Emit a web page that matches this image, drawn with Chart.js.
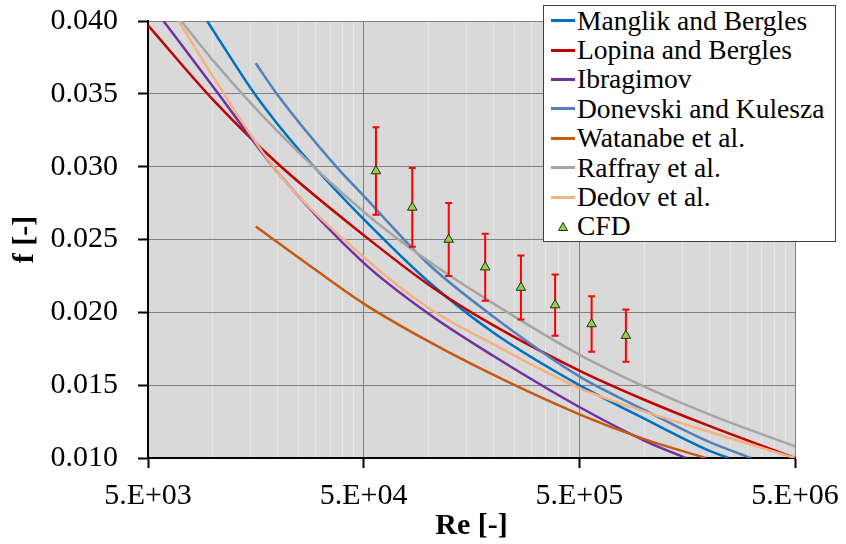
<!DOCTYPE html>
<html>
<head>
<meta charset="utf-8">
<script src="https://cdn.jsdelivr.net/npm/chart.js@4.4.1/dist/chart.umd.min.js"></script>
<style>
  html, body { margin: 0; padding: 0; background: #ffffff; }
  #wrap { position: relative; width: 846px; height: 544px; }
  #legend {
    position: absolute; left: 543px; top: 5px; width: 291px; height: 235px;
    background: #ffffff; border: 1px solid #404040;
    font-family: 'Liberation Serif', Tinos, 'Times New Roman', 'Noto Serif', 'DejaVu Serif', serif;
    font-size: 27.5px; color: #000;
  }
  #legend .row { height: 29.4px; display: flex; align-items: center; white-space: nowrap; }
  #legend .swatch { width: 24px; height: 3px; margin-left: 7px; margin-right: 2px; flex: none; }
  #legend svg { margin-left: 14px; margin-right: 9px; flex: none; }
</style>
</head>
<body>
<div id="wrap">
  <canvas id="c" width="846" height="544"></canvas>
  <div id="legend"></div>
</div>
<script>
// Friction factor correlations vs Reynolds number
const mbRe = [9400, 15600, 20000, 29000, 50000, 100000, 200000, 500000, 1000000, 2000000, 2460000];
const mbF  = [0.0400, 0.0350, 0.0329, 0.0301, 0.0264, 0.0221, 0.0186, 0.0150, 0.0127, 0.0105, 0.0100];

const lbRe = [5000, 10000, 20000, 50000, 100000, 200000, 500000, 1000000, 2000000, 5000000];
const lbF  = [0.0397, 0.0346, 0.0302, 0.0253, 0.0219, 0.0191, 0.0160, 0.0140, 0.0122, 0.0100];

const ibRe = [5900, 10000, 20000, 50000, 100000, 200000, 500000, 1000000, 1560000];
const ibF  = [0.0400, 0.0355, 0.0296, 0.0234, 0.0199, 0.0170, 0.0135, 0.0112, 0.0100];

const dkRe = [15800, 20000, 37300, 50000, 100000, 200000, 500000, 1000000, 2000000, 3130000];
const dkF  = [0.0371, 0.0349, 0.0300, 0.0280, 0.0233, 0.0197, 0.0156, 0.0133, 0.0111, 0.0100];

const wnRe = [15800, 30000, 50000, 100000, 200000, 500000, 1000000, 1930000];
const wnF  = [0.0259, 0.0229, 0.0206, 0.0180, 0.0157, 0.0130, 0.0113, 0.0100];

const rfRe = [7130, 10000, 20000, 50000, 100000, 200000, 500000, 1000000, 2000000, 5000000];
const rfF  = [0.0400, 0.0373, 0.0324, 0.0269, 0.0235, 0.0206, 0.0171, 0.0149, 0.0130, 0.0108];

const ddRe = [6940, 10000, 20000, 50000, 100000, 200000, 500000, 1000000, 2000000, 5000000];
const ddF  = [0.0400, 0.0362, 0.0296, 0.0238, 0.0203, 0.0178, 0.0148, 0.0132, 0.0118, 0.0100];

// CFD results with their uncertainty
const cfdRe  = [57000, 84000, 124000, 183000, 268000, 386000, 570000, 822000];
const cfdF   = [0.0297, 0.0272, 0.0250, 0.0231, 0.0217, 0.0205, 0.0192, 0.0184];
const cfdErr = [0.0030, 0.0027, 0.0025, 0.0023, 0.0022, 0.0021, 0.0019, 0.0018];

// Axis ticks
const reTicks = [5000, 50000, 500000, 5000000];
const reTickLabels = ['5.E+03', '5.E+04', '5.E+05', '5.E+06'];
const fTicks = [0.010, 0.015, 0.020, 0.025, 0.030, 0.035, 0.040];
const fTickLabels = ['0.010', '0.015', '0.020', '0.025', '0.030', '0.035', '0.040'];

const SERIF = "'Liberation Serif', Tinos, 'Times New Roman', 'Noto Serif', 'DejaVu Serif', serif";

const curves = [
  { label: 'Manglik and Bergles', re: mbRe, f: mbF, color: '#0070C0' },
  { label: 'Lopina and Bergles', re: lbRe, f: lbF, color: '#C00000' },
  { label: 'Ibragimov', re: ibRe, f: ibF, color: '#7030A0' },
  { label: 'Donevski and Kulesza', re: dkRe, f: dkF, color: '#4F81BD' },
  { label: 'Watanabe et al.', re: wnRe, f: wnF, color: '#C55A11' },
  { label: 'Raffray et al.', re: rfRe, f: rfF, color: '#A5A5A5' },
  { label: 'Dedov et al.', re: ddRe, f: ddF, color: '#F4B183' }
];

const datasets = curves.map((c, i) => ({
  type: 'line',
  label: c.label,
  data: c.re.map((r, k) => ({ x: r, y: c.f[k] })),
  borderColor: c.color,
  backgroundColor: c.color,
  borderWidth: 2.5,
  pointRadius: 0,
  pointHoverRadius: 0,
  cubicInterpolationMode: 'monotone',
  fill: false,
  order: 20 - i
}));

datasets.push({
  type: 'scatter',
  label: 'CFD',
  data: cfdRe.map((r, k) => ({ x: r, y: cfdF[k] })),
  errors: cfdErr,
  pointStyle: 'triangle',
  pointRadius: 5.5,
  backgroundColor: '#92D050',
  borderColor: '#1f2f10',
  borderWidth: 1,
  showLine: false,
  order: 0
});

// Gridline values for the log axis: every multiple of the decade start
const reGrid = [];
for (let d = 0; d < reTicks.length - 1; d++) {
  for (let k = 1; k <= 9; k++) reGrid.push(reTicks[d] * k);
}
reGrid.push(reTicks[reTicks.length - 1]);
const isMajorRe = v => reTicks.indexOf(v) >= 0;

const plotBg = {
  id: 'plotBg',
  beforeDraw(chart) {
    const { ctx, chartArea: a } = chart;
    ctx.save();
    ctx.fillStyle = '#d9d9d9';
    ctx.fillRect(a.left, a.top, a.right - a.left, a.bottom - a.top);
    ctx.restore();
  }
};

const errorBars = {
  id: 'errorBars',
  beforeDatasetDraw(chart, args) {
    const ds = chart.data.datasets[args.index];
    if (!ds.errors) return;
    const { ctx } = chart;
    const xs = chart.scales.x, ys = chart.scales.y;
    ctx.save();
    ctx.strokeStyle = '#FF0000';
    ctx.lineWidth = 2;
    ds.data.forEach((p, k) => {
      const x = xs.getPixelForValue(p.x);
      const yTop = ys.getPixelForValue(p.y + ds.errors[k]);
      const yBot = ys.getPixelForValue(p.y - ds.errors[k]);
      ctx.beginPath();
      ctx.moveTo(x, yTop); ctx.lineTo(x, yBot);
      ctx.moveTo(x - 3.5, yTop); ctx.lineTo(x + 3.5, yTop);
      ctx.moveTo(x - 3.5, yBot); ctx.lineTo(x + 3.5, yBot);
      ctx.stroke();
    });
    ctx.restore();
  }
};

const chart = new Chart(document.getElementById('c'), {
  data: { datasets },
  plugins: [plotBg, errorBars],
  options: {
    responsive: false,
    devicePixelRatio: 1,
    animation: false,
    layout: { padding: { top: 21, right: 51, left: 0, bottom: 0 } },
    plugins: { legend: { display: false }, tooltip: { enabled: false } },
    scales: {
      x: {
        type: 'logarithmic',
        min: reTicks[0],
        max: reTicks[reTicks.length - 1],
        afterBuildTicks(scale) { scale.ticks = reGrid.map(v => ({ value: v })); },
        afterFit(scale) { scale.height = 86; scale.paddingLeft = 0; scale.paddingRight = 0; },
        ticks: {
          autoSkip: false, maxRotation: 0, minRotation: 0, padding: 10, color: '#000',
          font: { family: SERIF, size: 30 },
          callback(v) { const i = reTicks.indexOf(v); return i >= 0 ? reTickLabels[i] : ''; }
        },
        grid: {
          color: ctx => (ctx.tick && isMajorRe(ctx.tick.value)) ? '#808080' : '#e6e6e6',
          lineWidth: 1,
          tickLength: 10,
          tickWidth: 2,
          tickColor: ctx => (ctx.tick && isMajorRe(ctx.tick.value)) ? '#000' : 'rgba(0,0,0,0)'
        },
        border: { color: '#000', width: 2 },
        title: {
          display: true, text: 'Re [-]', color: '#000', padding: 0,
          font: { family: SERIF, size: 30, weight: 'bold' }
        }
      },
      y: {
        type: 'linear',
        min: fTicks[0],
        max: fTicks[fTicks.length - 1],
        afterBuildTicks(scale) { scale.ticks = fTicks.map(v => ({ value: v })); },
        afterFit(scale) { scale.width = 148; scale.paddingTop = 0; scale.paddingBottom = 0; },
        ticks: {
          padding: 20, color: '#000',
          font: { family: SERIF, size: 30 },
          callback(v, i) { return fTickLabels[i]; }
        },
        grid: { color: '#808080', lineWidth: 1, tickLength: 10, tickWidth: 2, tickColor: '#000' },
        border: { color: '#000', width: 2 },
        title: {
          display: true, text: 'f [-]', color: '#000', padding: { top: 7, bottom: 0 },
          font: { family: SERIF, size: 30, weight: 'bold' }
        }
      }
    }
  }
});

// Legend box built from the chart's datasets
const legend = document.getElementById('legend');
chart.data.datasets.forEach(ds => {
  const row = document.createElement('div');
  row.className = 'row';
  if (ds.pointStyle === 'triangle') {
    const ns = 'http://www.w3.org/2000/svg';
    const svg = document.createElementNS(ns, 'svg');
    svg.setAttribute('width', '10'); svg.setAttribute('height', '9');
    const tri = document.createElementNS(ns, 'polygon');
    tri.setAttribute('points', '5,0.5 9.5,8.5 0.5,8.5');
    tri.setAttribute('fill', ds.backgroundColor);
    tri.setAttribute('stroke', ds.borderColor);
    tri.setAttribute('stroke-width', '1');
    svg.appendChild(tri);
    row.appendChild(svg);
  } else {
    const sw = document.createElement('span');
    sw.className = 'swatch';
    sw.style.background = ds.borderColor;
    row.appendChild(sw);
  }
  const txt = document.createElement('span');
  txt.textContent = ds.label;
  row.appendChild(txt);
  legend.appendChild(row);
});
</script>
</body>
</html>
